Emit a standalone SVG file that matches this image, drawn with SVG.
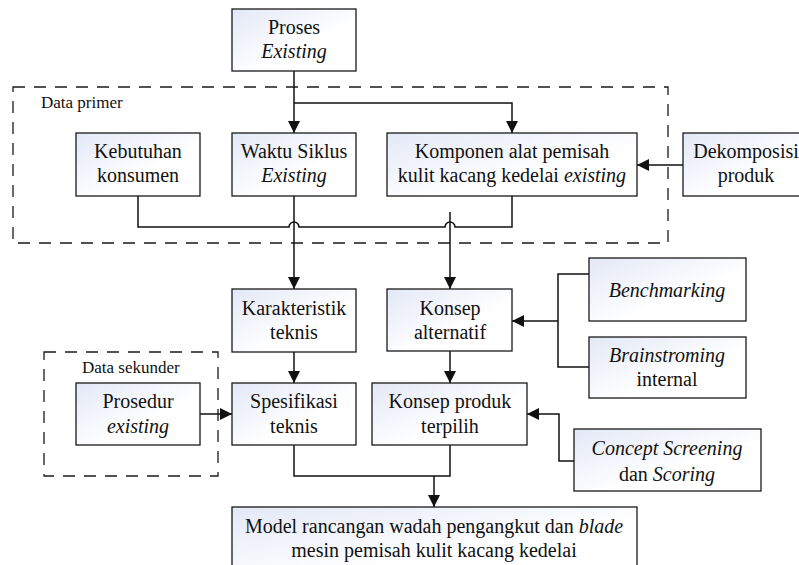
<svg xmlns="http://www.w3.org/2000/svg" width="799" height="565" viewBox="0 0 799 565">
<style>
.box{fill:url(#g);stroke:#1a1a1a;stroke-width:1.3}
.dash{fill:none;stroke:#1a1a1a;stroke-width:1.3;stroke-dasharray:12 9}
text{font-family:'Liberation Serif','Times New Roman','DejaVu Serif',serif}
.t{font-size:20px;fill:#111;text-anchor:middle}
.lbl{font-size:17px;fill:#111}
.c{fill:none;stroke:#111;stroke-width:1.5}
.a{marker-end:url(#ah)}
</style>
<defs>
<linearGradient id="g" x1="0" y1="0" x2="1" y2="1">
<stop offset="0" stop-color="#e3e8f6"/>
<stop offset="0.6" stop-color="#ffffff"/>
<stop offset="1" stop-color="#ffffff"/>
</linearGradient>
<marker id="ah" markerUnits="userSpaceOnUse" markerWidth="12" markerHeight="12" refX="12" refY="6" orient="auto">
<path d="M0,0 L12,6 L0,12 z" fill="#111"/>
</marker>
</defs>
<rect width="799" height="565" fill="#fff"/>

<g id="data-primer">
<rect class="dash" x="13" y="87" width="655" height="156"/>
<text class="lbl" x="41" y="108" font-family="Liberation Serif, serif">Data primer</text>
</g>
<g id="data-sekunder">
<rect class="dash" x="44" y="352" width="174" height="124"/>
<text class="lbl" x="82" y="373" font-family="Liberation Serif, serif">Data sekunder</text>
</g>

<g id="connectors">
<path class="c a" d="M294,71 V133"/>
<path class="c a" d="M294,103 H512 V133"/>
<path class="c" d="M138,196 V227 H289 A5,5 0 0 1 299,227 H445 A5,5 0 0 1 455,227 H512 V196"/>
<path class="c a" d="M294,196 V289"/>
<path class="c a" d="M450,212 V289"/>
<path class="c a" d="M683,165 H637"/>
<path class="c" d="M589,274 H558 V367 H589"/>
<path class="c a" d="M558,321 H512"/>
<path class="c a" d="M294,352 V383"/>
<path class="c a" d="M450,351 V383"/>
<path class="c a" d="M200,414 H232"/>
<path class="c a" d="M574,461 H559 V414 H527"/>
<path class="c" d="M294,445 V476 H450 V445"/>
<path class="c a" d="M434,476 V507"/>
</g>

<g id="proses">
<rect class="box" x="232" y="9" width="124" height="62"/>
<text class="t" x="294" y="34">Proses</text>
<text class="t" x="294" y="58" font-style="italic">Existing</text>
</g>
<g id="kebutuhan">
<rect class="box" x="76" y="133" width="124" height="63"/>
<text class="t" x="138" y="158">Kebutuhan</text>
<text class="t" x="138" y="182">konsumen</text>
</g>
<g id="waktu">
<rect class="box" x="232" y="133" width="124" height="63"/>
<text class="t" x="294" y="158">Waktu Siklus</text>
<text class="t" x="294" y="182" font-style="italic">Existing</text>
</g>
<g id="komponen">
<rect class="box" x="387" y="133" width="250" height="63"/>
<text class="t" x="512" y="158">Komponen alat pemisah</text>
<text class="t" x="512" y="182">kulit kacang kedelai <tspan font-style="italic">existing</tspan></text>
</g>
<g id="dekomposisi">
<rect class="box" x="683" y="133" width="126" height="63"/>
<text class="t" x="746" y="158">Dekomposisi</text>
<text class="t" x="746" y="182">produk</text>
</g>
<g id="karakteristik">
<rect class="box" x="232" y="289" width="124" height="63"/>
<text class="t" x="294" y="315">Karakteristik</text>
<text class="t" x="294" y="339">teknis</text>
</g>
<g id="konsep-alternatif">
<rect class="box" x="387" y="289" width="125" height="62"/>
<text class="t" x="450" y="315">Konsep</text>
<text class="t" x="450" y="339">alternatif</text>
</g>
<g id="benchmarking">
<rect class="box" x="589" y="258" width="157" height="63"/>
<text class="t" x="667" y="297" font-style="italic">Benchmarking</text>
</g>
<g id="brainstroming">
<rect class="box" x="589" y="337" width="157" height="61"/>
<text class="t" x="667" y="362" font-style="italic">Brainstroming</text>
<text class="t" x="667" y="386">internal</text>
</g>
<g id="prosedur">
<rect class="box" x="76" y="383" width="124" height="62"/>
<text class="t" x="138" y="408">Prosedur</text>
<text class="t" x="138" y="433" font-style="italic">existing</text>
</g>
<g id="spesifikasi">
<rect class="box" x="232" y="383" width="124" height="62"/>
<text class="t" x="294" y="408">Spesifikasi</text>
<text class="t" x="294" y="433">teknis</text>
</g>
<g id="konsep-produk">
<rect class="box" x="372" y="383" width="155" height="62"/>
<text class="t" x="450" y="408">Konsep produk</text>
<text class="t" x="450" y="433">terpilih</text>
</g>
<g id="concept-screening">
<rect class="box" x="574" y="429" width="187" height="62"/>
<text class="t" x="667" y="455" font-style="italic">Concept Screening</text>
<text class="t" x="667" y="481">dan <tspan font-style="italic">Scoring</tspan></text>
</g>
<g id="model">
<rect class="box" x="232" y="507" width="405" height="70"/>
<text class="t" x="434" y="533">Model rancangan wadah pengangkut dan <tspan font-style="italic">blade</tspan></text>
<text class="t" x="434" y="557">mesin pemisah kulit kacang kedelai</text>
</g>
</svg>
